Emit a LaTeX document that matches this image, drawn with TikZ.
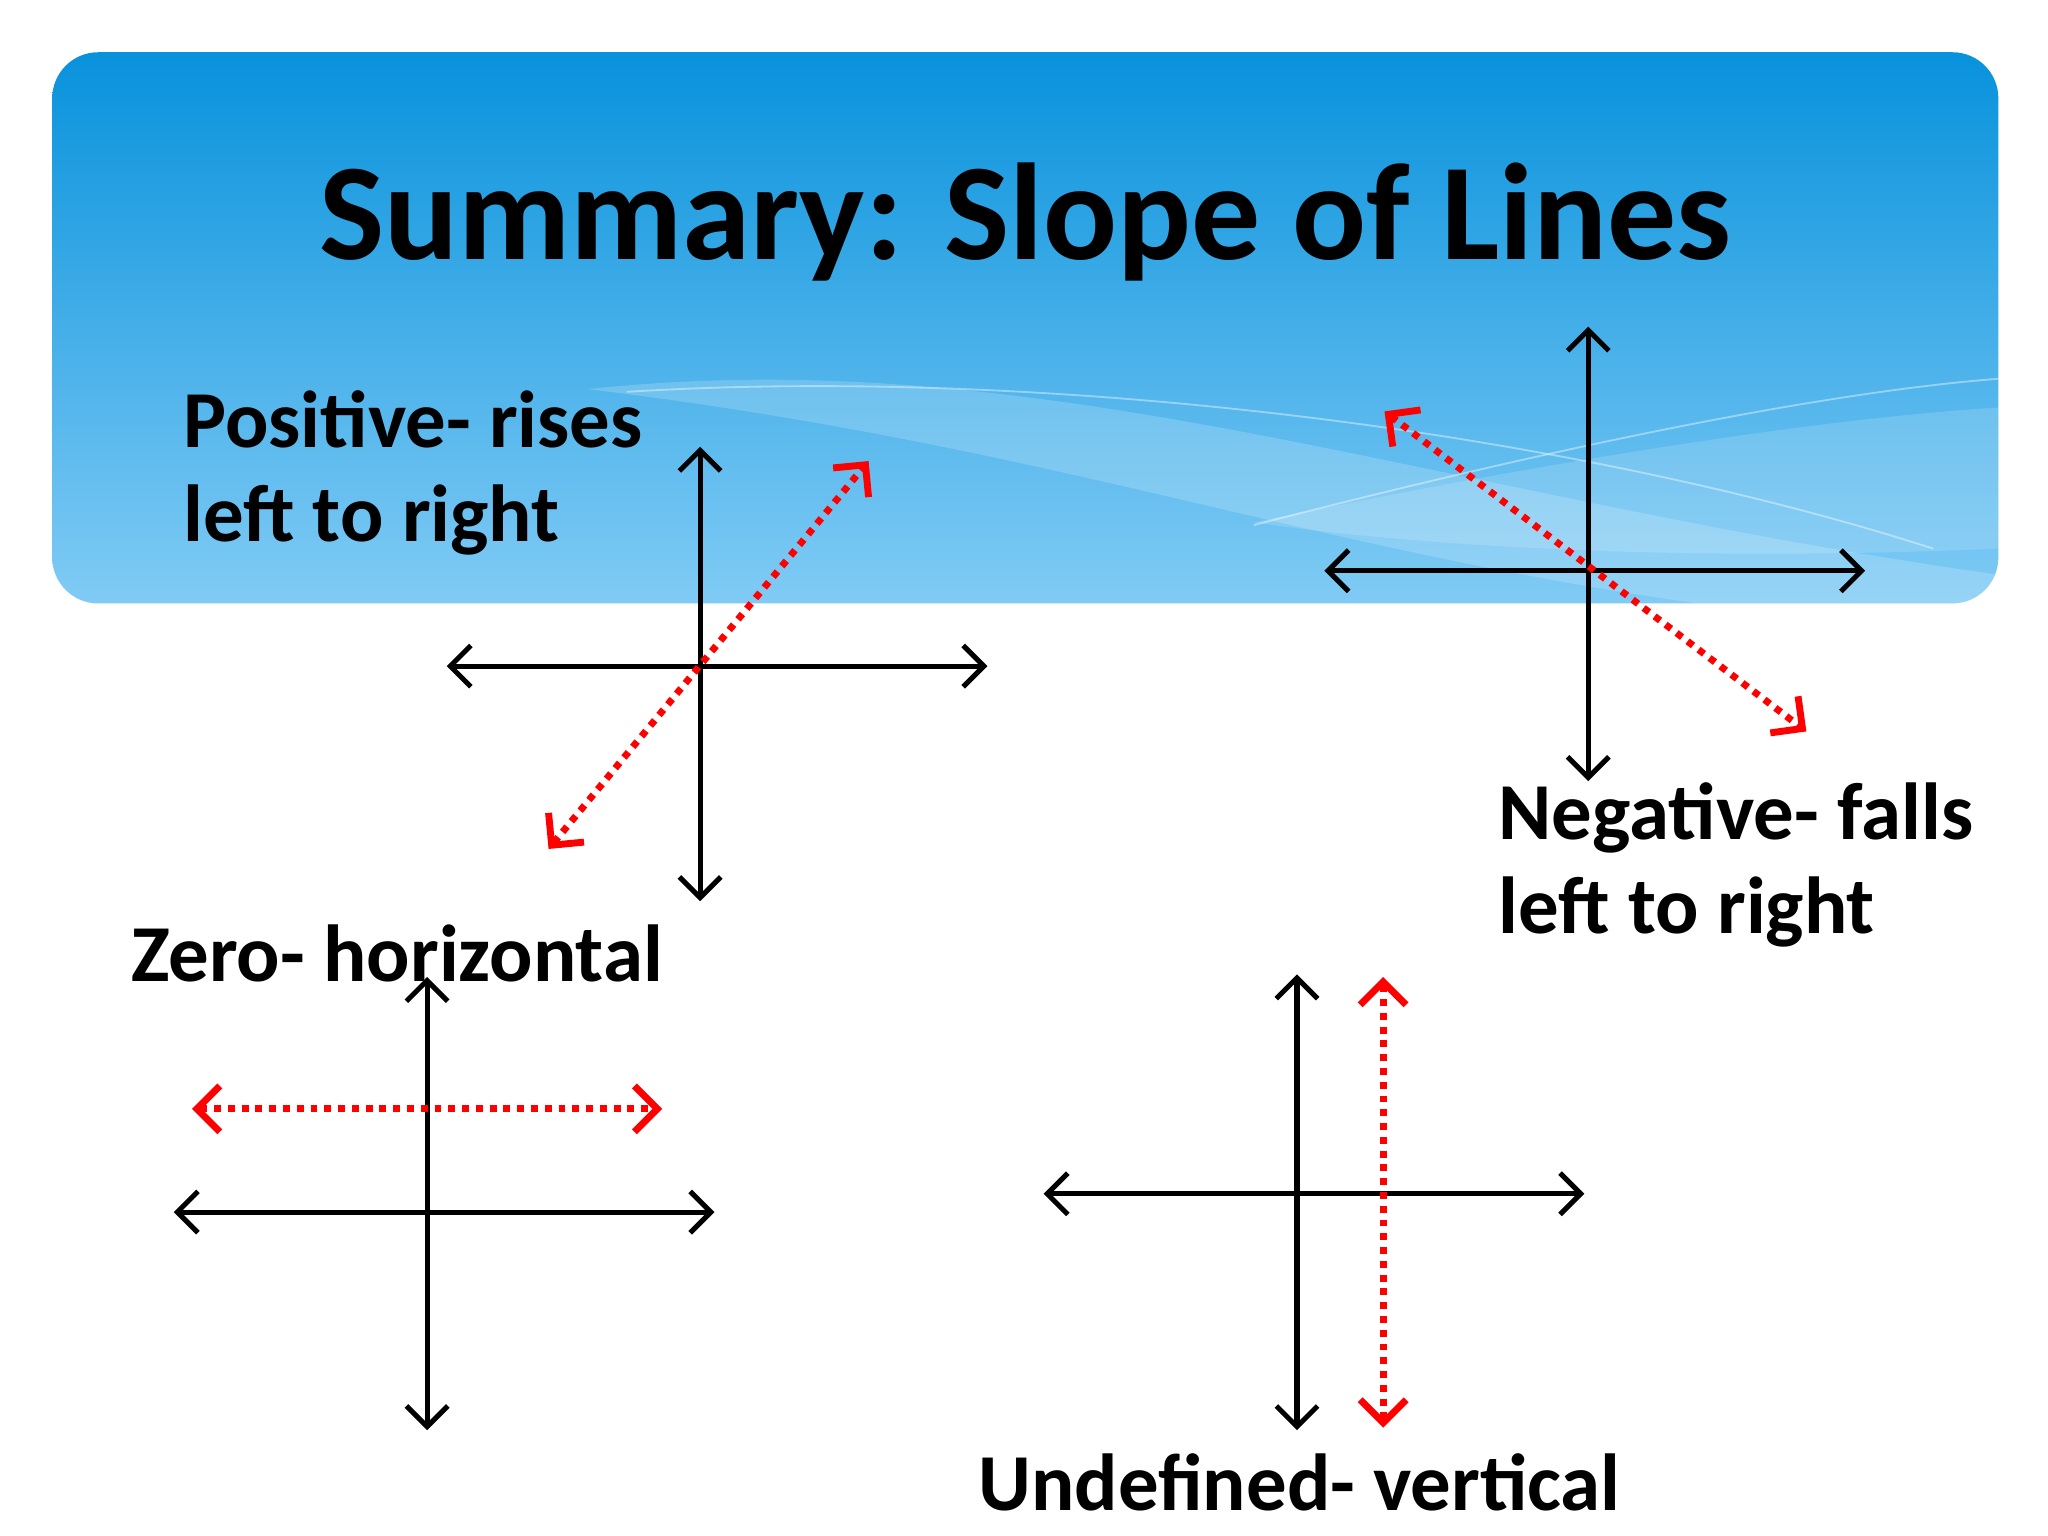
\documentclass[tikz,border=0pt]{standalone}
\usepackage{fontspec}
\setmainfont{Carlito}
\usetikzlibrary{arrows.meta}
\tikzset{
  ax/.style={line width=1.1pt,{Straight Barb[length=4.5pt,width=9pt]}-{Straight Barb[length=4.5pt,width=9pt]}},
  rd/.style={red,line width=1.5pt,dash pattern=on 1.5pt off 1.5pt,{Straight Barb[length=5pt,width=10pt]}-{Straight Barb[length=5pt,width=10pt]}},
  lbl/.style={font=\bfseries\fontsize{17.6}{20.5}\selectfont,anchor=west,align=left}
}
\begin{document}
\begin{tikzpicture}[x=0.01cm,y=-0.01cm]
\useasboundingbox (0,0) rectangle (1568,1176);
\fill[white] (0,0) rectangle (1568,1176);
\shade[top color={rgb,255:red,8;green,146;blue,220},bottom color={rgb,255:red,128;green,203;blue,245},rounded corners=10pt] (40,40) rectangle (1530,462);
\begin{scope}
\clip[rounded corners=10pt] (40,40) rectangle (1530,462);
\fill[white,opacity=0.18] (450,298) .. controls (800,260) and (1100,380) .. (1530,440) -- (1530,462) -- (1300,462) .. controls (1000,420) and (800,340) .. (450,298);
\fill[white,opacity=0.15] (960,400) .. controls (1200,350) and (1400,320) .. (1530,312) -- (1530,420) .. controls (1300,430) and (1100,420) .. (960,400);
\draw[white,opacity=0.4] (480,300) .. controls (800,280) and (1200,330) .. (1480,420);
\draw[white,opacity=0.4] (960,402) .. controls (1200,340) and (1400,300) .. (1530,290);
\end{scope}
\node (title) at (785,170) {\bfseries\fontsize{30}{36}\selectfont Summary: Slope of Lines};
% Positive
\coordinate (p1) at (342,510); \coordinate (p2) at (756,510);
\coordinate (p3) at (536,342); \coordinate (p4) at (536,690);
\coordinate (p5) at (420,650); \coordinate (p6) at (665,353);
\draw[ax] (p1) -- (p2); \draw[ax] (p3) -- (p4); \draw[rd] (p5) -- (p6);
\node[lbl] (tp) at (128,362) {Positive- rises\\left to right};
% Negative
\coordinate (n1) at (1014,437); \coordinate (n2) at (1428,437);
\coordinate (n3) at (1216,250); \coordinate (n4) at (1216,598);
\coordinate (n5) at (1060,315); \coordinate (n6) at (1383,560);
\draw[ax] (n1) -- (n2); \draw[ax] (n3) -- (n4); \draw[rd] (n5) -- (n6);
\node[lbl] (tn) at (1135,662) {Negative- falls\\left to right};
% Zero
\coordinate (z1) at (133,928); \coordinate (z2) at (547,928);
\coordinate (z3) at (327,748); \coordinate (z4) at (327,1095);
\coordinate (z5) at (147,849); \coordinate (z6) at (507,849);
\draw[ax] (z1) -- (z2); \draw[ax] (z3) -- (z4); \draw[rd] (z5) -- (z6);
\node[lbl] (tz) at (88,730) {Zero- horizontal};
% Undefined
\coordinate (u1) at (799,914); \coordinate (u2) at (1213,914);
\coordinate (u3) at (993,746); \coordinate (u4) at (993,1095);
\coordinate (u5) at (1059,748); \coordinate (u6) at (1059,1093);
\draw[ax] (u1) -- (u2); \draw[ax] (u3) -- (u4); \draw[rd] (u5) -- (u6);
\node[lbl,anchor=center] (tu) at (995,1135) {Undefined- vertical};
\end{tikzpicture}
\end{document}
